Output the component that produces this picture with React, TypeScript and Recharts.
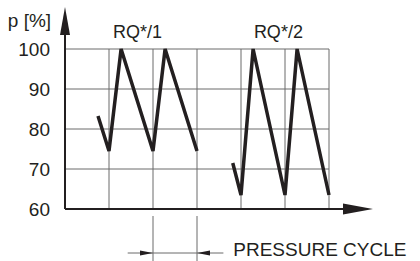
import { LineChart, Line, XAxis, YAxis, ReferenceLine, ReferenceDot } from "recharts"

// pressure in % over time (one grid cell = 4 time units)
const yTicks = [60, 70, 80, 90, 100]
const gridX = [4, 8, 12, 16, 20, 24]
const rq1 = [
  { t: 3, p: 83.25 },
  { t: 4, p: 74.5 },
  { t: 5.1, p: 100 },
  { t: 8, p: 74.5 },
  { t: 9.1, p: 100 },
  { t: 12, p: 74.5 },
]
const rq2 = [
  { t: 15.25, p: 71.5 },
  { t: 16, p: 63.5 },
  { t: 17.1, p: 100 },
  { t: 20, p: 63.5 },
  { t: 21.1, p: 100 },
  { t: 24, p: 63.5 },
]
const groupLabels = ["RQ*/1", "RQ*/2"]
const axisTitle = "p [%]"
const cycleLabel = "PRESSURE CYCLE"

const INK = "#231f20"
const GRID = "#6a6a6a"
const FONT = "'Liberation Sans', Arial, sans-serif"

const text = (value: string, size: number, anchor: "start" | "middle" | "end") => (props: any) => (
  <text x={props.cx} y={props.cy} fontSize={size} fontFamily={FONT} fill={INK} textAnchor={anchor}>
    {value}
  </text>
)

const arrowUp = (props: any) => (
  <polygon
    points={`${props.cx},${props.cy} ${props.cx - 5},${props.cy + 28} ${props.cx + 5},${props.cy + 28}`}
    fill={INK}
  />
)
const arrowRight = (len: number, half: number) => (props: any) => (
  <polygon
    points={`${props.cx},${props.cy} ${props.cx - len},${props.cy - half} ${props.cx - len},${props.cy + half}`}
    fill={INK}
  />
)
const arrowLeft = (len: number, half: number) => (props: any) => (
  <polygon
    points={`${props.cx},${props.cy} ${props.cx + len},${props.cy - half} ${props.cx + len},${props.cy + half}`}
    fill={INK}
  />
)

export default function App() {
  return (
    <div style={{ position: "absolute", left: 0, top: 0, background: "#fff" }}>
      <LineChart width={420} height={261} margin={{ top: 7, right: 47, bottom: 0, left: 0 }}>
        <XAxis type="number" dataKey="t" domain={[0, 28]} allowDataOverflow hide />
        <YAxis
          type="number"
          domain={[47, 110.5]}
          allowDataOverflow
          ticks={yTicks}
          width={65}
          axisLine={false}
          tickLine={false}
          tickSize={0}
          tickMargin={15}
          tick={{ fill: INK, fontSize: 19, fontFamily: FONT }}
        />

        {yTicks.slice(1).map((v) => (
          <ReferenceLine key={`h${v}`} segment={[{ x: 0, y: v }, { x: 24, y: v }]} stroke={GRID} strokeWidth={1} />
        ))}
        {gridX.map((t) => (
          <ReferenceLine key={`v${t}`} segment={[{ x: t, y: 60 }, { x: t, y: 100 }]} stroke={GRID} strokeWidth={1} />
        ))}

        {/* axes with arrows */}
        <ReferenceLine segment={[{ x: 0, y: 60 }, { x: 0, y: 104 }]} stroke={INK} strokeWidth={2} />
        <ReferenceLine segment={[{ x: 0, y: 60 }, { x: 25.5, y: 60 }]} stroke={INK} strokeWidth={2} />
        <ReferenceDot x={0} y={110.5} r={0} shape={arrowUp} ifOverflow="visible" />
        <ReferenceDot x={28} y={60} r={0} shape={arrowRight(30, 5.5)} ifOverflow="visible" />

        {/* pressure cycle dimension */}
        <ReferenceLine segment={[{ x: 8, y: 58.25 }, { x: 8, y: 47 }]} stroke={GRID} strokeWidth={1} />
        <ReferenceLine segment={[{ x: 12, y: 58.25 }, { x: 12, y: 47 }]} stroke={GRID} strokeWidth={1} />
        <ReferenceLine segment={[{ x: 5.7, y: 49 }, { x: 14.4, y: 49 }]} stroke={GRID} strokeWidth={1} />
        <ReferenceDot x={8} y={49} r={0} shape={arrowRight(13, 2.5)} ifOverflow="visible" />
        <ReferenceDot x={12} y={49} r={0} shape={arrowLeft(13, 2.5)} ifOverflow="visible" />

        <Line data={rq1} dataKey="p" type="linear" stroke={INK} strokeWidth={3.5} dot={false} activeDot={false} isAnimationActive={false} />
        <Line data={rq2} dataKey="p" type="linear" stroke={INK} strokeWidth={3.5} dot={false} activeDot={false} isAnimationActive={false} />

        <ReferenceDot x={-5.2} y={105.5} r={0} shape={text(axisTitle, 19, "start")} ifOverflow="visible" />
        <ReferenceDot x={6.6} y={102.75} r={0} shape={text(groupLabels[0], 18, "middle")} ifOverflow="visible" />
        <ReferenceDot x={19.4} y={102.75} r={0} shape={text(groupLabels[1], 18, "middle")} ifOverflow="visible" />
        <ReferenceDot x={15.3} y={48.25} r={0} shape={text(cycleLabel, 19, "start")} ifOverflow="visible" />
      </LineChart>
    </div>
  )
}
